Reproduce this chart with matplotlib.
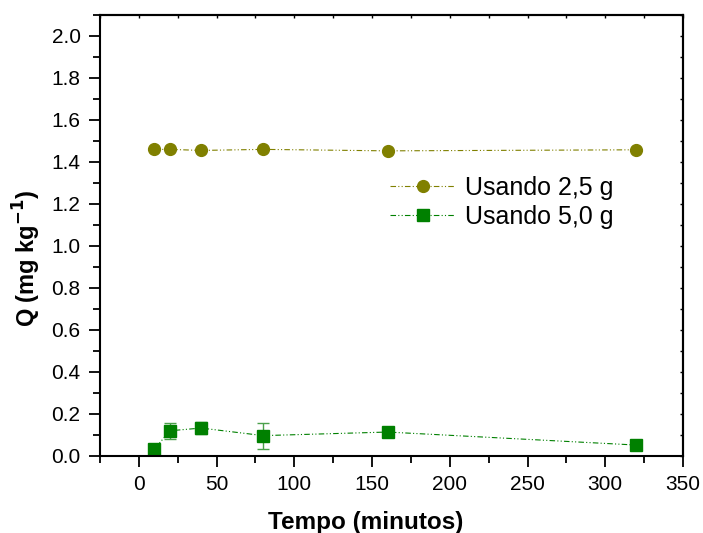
import numpy as np
from matplotlib import pyplot as plt
from matplotlib.ticker import MultipleLocator

plt.rcParams['font.family'] = ['Liberation Sans', 'DejaVu Sans']

# tempo (minutos)
tempo = [10, 20, 40, 80, 160, 320]
# Q para cada massa
q_25 = [1.460, 1.460, 1.455, 1.460, 1.453, 1.458]
q_50 = [0.033, 0.120, 0.133, 0.097, 0.114, 0.052]
err_50 = [0.005, 0.037, 0.028, 0.062, 0.008, 0.022]

fig = plt.figure(figsize=(7.03, 5.33), dpi=100)
ax = fig.add_axes([0.1422, 0.1445, 0.8294, 0.8274])

ls = (0, (5, 2, 1, 2, 1, 2))
ax.plot(tempo, q_25, color='#808000', marker='o', markersize=8.5, linestyle=ls,
        linewidth=0.8, label='Usando 2,5 g')
# barras de erro sem entrar na legenda
ax.errorbar(tempo, q_50, yerr=err_50, fmt='none', capsize=4, elinewidth=1,
            ecolor='#4aa04a')
ax.plot(tempo, q_50, color='#008000', marker='s', markersize=8,
        linestyle=ls, linewidth=0.8, label='Usando 5,0 g')

ax.set_xlim(-25, 350)
ax.set_ylim(0, 2.1)
ax.xaxis.set_major_locator(MultipleLocator(50))
ax.xaxis.set_minor_locator(MultipleLocator(25))
ax.yaxis.set_major_locator(MultipleLocator(0.2))
ax.yaxis.set_minor_locator(MultipleLocator(0.1))
ax.yaxis.set_major_formatter(plt.FuncFormatter(lambda v, p: '%.1f' % v))

ax.tick_params(which='both', direction='out', width=1.3, labelsize=15)
ax.tick_params(which='major', length=8, pad=6)
ax.tick_params(which='minor', length=5)
for s in ax.spines.values():
    s.set_linewidth(1.5)

# ticks pequenos para dentro no topo e na direita
top = ax.secondary_xaxis('top')
top.xaxis.set_major_locator(MultipleLocator(50))
top.xaxis.set_minor_locator(MultipleLocator(25))
top.tick_params(which='both', direction='in', length=2, width=1, labeltop=False)
top.spines['top'].set_linewidth(1.5)
right = ax.secondary_yaxis('right')
right.yaxis.set_major_locator(MultipleLocator(0.2))
right.yaxis.set_minor_locator(MultipleLocator(0.1))
right.tick_params(which='both', direction='in', length=2, width=1, labelright=False)
right.spines['right'].set_linewidth(1.5)

ax.set_xlabel('Tempo (minutos)', fontsize=17.5, fontweight='bold', labelpad=12)
ax.xaxis.set_label_coords(0.455, -0.125)
ax.set_ylabel('Q (mg kg$^{\\mathbf{-1}}$)', fontsize=17, fontweight='bold')
ax.yaxis.set_label_coords(-0.097, 0.449)

ax.legend(loc='upper left', bbox_to_anchor=(0.459, 0.687), frameon=False, fontsize=18,
          handlelength=2.6, handletextpad=0.4, labelspacing=0.2)

fig.savefig('out.png', dpi=100)
